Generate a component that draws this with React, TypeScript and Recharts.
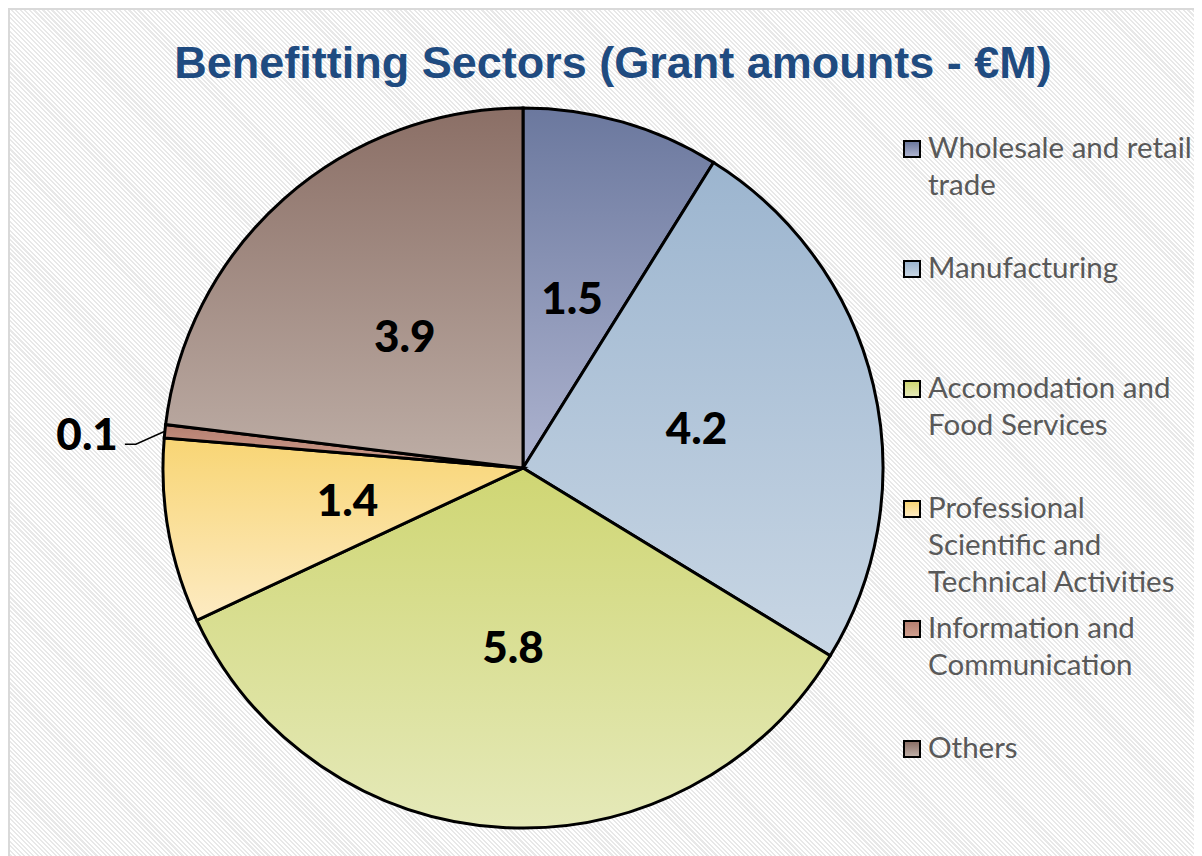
import { Cell, Legend, Pie, PieChart } from 'recharts'

const sectors = [
  'Wholesale and retail trade',
  'Manufacturing',
  'Accomodation and Food Services',
  'Professional Scientific and Technical Activities',
  'Information and Communication',
  'Others',
]
const grants = [1.5, 4.2, 5.8, 1.4, 0.1, 3.9]
// how the legend wraps each name
const legendLines = [
  ['Wholesale and retail', 'trade'],
  ['Manufacturing'],
  ['Accomodation and', 'Food Services'],
  ['Professional', 'Scientific and', 'Technical Activities'],
  ['Information and', 'Communication'],
  ['Others'],
]
// top / bottom stop of each slice's vertical gradient
const shades = [
  ['#6b789e', '#adb3cf'],
  ['#9cb5cf', '#c8d6e4'],
  ['#cfd673', '#e5e9b9'],
  ['#f8d574', '#fdebc3'],
  ['#b57f70', '#d0a090'],
  ['#8b6f66', '#bdada5'],
]

const W = 1194
const H = 848
const RAD = Math.PI / 180
const total = grants.reduce((a, b) => a + b, 0)
const data = sectors.map((name, i) => ({ name, value: grants[i] }))

function SliceLabel(props: any) {
  const { cx, cy, midAngle, outerRadius, value } = props
  const share = value / total
  const cos = Math.cos(-midAngle * RAD)
  const sin = Math.sin(-midAngle * RAD)
  const style = { fontFamily: 'Lato, sans-serif', fontWeight: 900, fontSize: 44 }
  if (share < 0.02) {
    // tiny slice: value sits outside with an elbow leader
    const ex = cx + outerRadius * cos
    const ey = cy + outerRadius * sin
    const bx = ex - 29
    const by = ey + 13
    return (
      <g>
        <polyline
          points={`${ex},${ey} ${bx},${by} ${bx - 11},${by}`}
          fill="none"
          stroke="#000"
          strokeWidth={1.5}
        />
        <text x={bx - 18} y={ey + 2} textAnchor="end" dominantBaseline="central" fill="#000" style={style}>
          {value.toFixed(1)}
        </text>
      </g>
    )
  }
  const r = outerRadius * 0.495
  return (
    <text
      x={cx + r * cos}
      y={cy + r * sin}
      textAnchor="middle"
      dominantBaseline="central"
      fill="#000"
      style={style}
    >
      {value.toFixed(1)}
    </text>
  )
}

function SectorLegend() {
  return (
    <div style={{ fontFamily: 'Lato, sans-serif', fontSize: 29.5, color: '#595959' }}>
      {legendLines.map((lines, i) => (
        <div key={sectors[i]} style={{ display: 'flex', height: 120, alignItems: 'flex-start' }}>
          <span
            style={{
              boxSizing: 'border-box',
              width: 18,
              height: 18,
              marginTop: 12,
              marginRight: 7,
              flex: '0 0 auto',
              border: '2px solid #000',
              background: `linear-gradient(${shades[i][0]}, ${shades[i][1]})`,
            }}
          />
          <div style={{ lineHeight: '37px', whiteSpace: 'nowrap' }}>
            {lines.map((l) => (
              <div key={l}>{l}</div>
            ))}
          </div>
        </div>
      ))}
    </div>
  )
}

export default function App() {
  return (
    <div
      style={{
        position: 'relative',
        width: W,
        height: H,
        overflow: 'hidden',
        boxSizing: 'border-box',
        borderLeft: '2px solid #d9d9d9',
        borderTop: '2px solid #d9d9d9',
        background: 'repeating-linear-gradient(45deg, #e8e8e8 0px, #e8e8e8 1.5px, #ffffff 1.5px, #ffffff 3.2px)',
      }}
    >
      <style>{'html,body{overflow:hidden}'}</style>
      <div
        style={{
          position: 'absolute',
          top: 30,
          left: 0,
          width: W,
          paddingLeft: 12,
          boxSizing: 'border-box',
          textAlign: 'center',
          fontFamily: '"Liberation Sans", Arial, sans-serif',
          fontWeight: 700,
          fontSize: 45,
          lineHeight: 1,
          color: '#1f4b80',
        }}
      >
        Benefitting Sectors (Grant amounts - €M)
      </div>
      <PieChart width={W - 2} height={H - 2} margin={{ top: 0, right: 0, bottom: 0, left: 0 }}>
        <defs>
          {shades.map(([a, b], i) => (
            <linearGradient key={i} id={`slice${i}`} x1="0" y1="0" x2="0" y2="1">
              <stop offset="0%" stopColor={a} />
              <stop offset="100%" stopColor={b} />
            </linearGradient>
          ))}
        </defs>
        <Pie
          data={data}
          dataKey="value"
          nameKey="name"
          cx={513}
          cy={458}
          outerRadius={360}
          startAngle={90}
          endAngle={-270}
          stroke="#000"
          strokeWidth={3}
          label={SliceLabel}
          labelLine={false}
          isAnimationActive={false}
        >
          {data.map((d, i) => (
            <Cell key={d.name} fill={`url(#slice${i})`} />
          ))}
        </Pie>
        <Legend
          layout="vertical"
          align="right"
          verticalAlign="top"
          content={<SectorLegend />}
          wrapperStyle={{ left: 893, top: 118, width: 300, right: 'auto' }}
        />
      </PieChart>
    </div>
  )
}
